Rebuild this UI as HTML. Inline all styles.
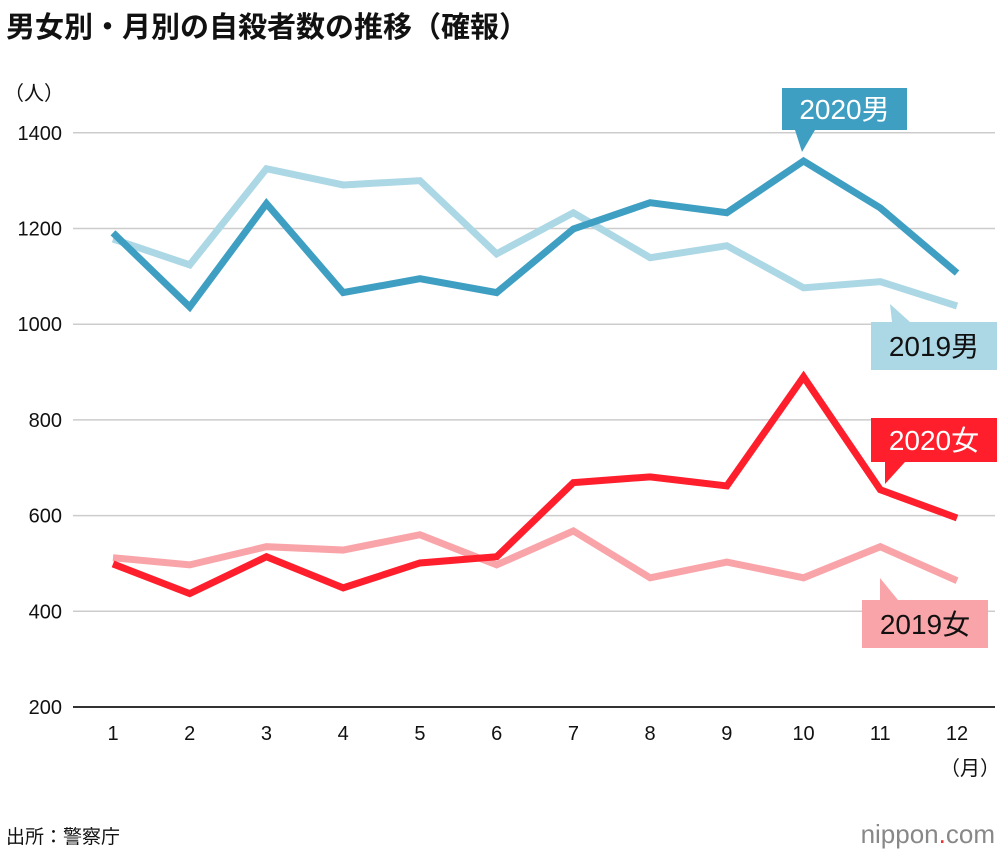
<!DOCTYPE html>
<html><head><meta charset="utf-8"><style>
body{margin:0;background:#fff;width:1000px;height:856px;overflow:hidden;font-family:"Liberation Sans","Noto Sans CJK JP",sans-serif}
</style></head><body>
<svg width="1000" height="856" xmlns="http://www.w3.org/2000/svg" style="font-family:'Liberation Sans','Noto Sans CJK JP',sans-serif">
<text x="6" y="37" font-size="29" font-weight="bold" fill="#111">男女別・月別の自殺者数の推移（確報）</text>
<text x="4" y="100" font-size="20" fill="#111">（人）</text>
<g id="grid"></g>
<g id="lines"></g>
<g id="labels"></g>
<text x="940" y="775" font-size="20" fill="#111">（月）</text>
<text x="6" y="843" font-size="19" fill="#111">出所：警察庁</text>
<text x="995" y="843" font-size="26" fill="#888" text-anchor="end">nippon<tspan fill="#e33">.</tspan>com</text>
</svg>
<script>
const months=[1,2,3,4,5,6,7,8,9,10,11,12];
const yTicks=[200,400,600,800,1000,1200,1400];
const male2020=[1191,1036,1252,1066,1095,1066,1199,1254,1233,1341,1243,1107];
const male2019=[1178,1124,1325,1291,1300,1147,1233,1139,1164,1076,1089,1038];
const female2020=[499,437,514,449,501,514,669,681,662,890,654,595];
const female2019=[512,497,535,528,560,497,568,470,503,470,535,464];
const NS="http://www.w3.org/2000/svg";
const x=m=>113+(m-1)*76.73;
const y=v=>707-(v-200)*0.4785;
function mk(t,a,p){const e=document.createElementNS(NS,t);for(const k in a)e.setAttribute(k,a[k]);p.appendChild(e);return e;}
const grid=document.getElementById('grid');
yTicks.forEach(v=>{
 const l=mk('line',{x1:73,x2:995,y1:y(v),y2:y(v),stroke:v==200?'#333':'#ccc','stroke-width':v==200?2:1.5},grid);
 
 
 const t=mk('text',{x:62,y:y(v)+7,'font-size':20,'text-anchor':'end',fill:'#111'},grid);t.textContent=v;
 
 
});
months.forEach(m=>{
 const t=mk('text',{x:x(m),y:740,'font-size':20,'text-anchor':'middle',fill:'#111'},grid);t.textContent=m;
 
 
});
const lines=document.getElementById('lines');
[[male2019,'#acd7e5','line-2019-male'],[female2019,'#f9a4a8','line-2019-female'],[male2020,'#3f9fc2','line-2020-male'],[female2020,'#ff1f2c','line-2020-female']].forEach(([d,c,n])=>{
 const p=mk('polyline',{points:d.map((v,i)=>x(months[i])+','+y(v)).join(' '),fill:'none',stroke:c,'stroke-width':7,'stroke-linejoin':'miter'},lines);
 
 
});
const labels=document.getElementById('labels');
function label(bx,by,w,h,ptr,bg,fg,txt,name){
 const g=mk('g',{},labels);
 
 
 mk('rect',{x:bx,y:by,width:w,height:h,fill:bg},g);
 mk('polygon',{points:ptr,fill:bg},g);
 const t=mk('text',{x:bx+w/2,y:by+h/2+10,'font-size':28,'text-anchor':'middle',fill:fg},g);t.textContent=txt;
}
label(782,88,125,42,'795,130 815,130 802,152','#3f9fc2','#fff','2020男','label-2020-male');
label(871,322,126,48,'890,304 892,322 910,322','#acd7e5','#111','2019男','label-2019-male');
label(871,418,126,44,'885,462 905,462 885,484','#ff1f2c','#fff','2020女','label-2020-female');
label(862,600,126,48,'880,578 880,600 898,600','#f9a4a8','#111','2019女','label-2019-female');
</script>
</body></html>
